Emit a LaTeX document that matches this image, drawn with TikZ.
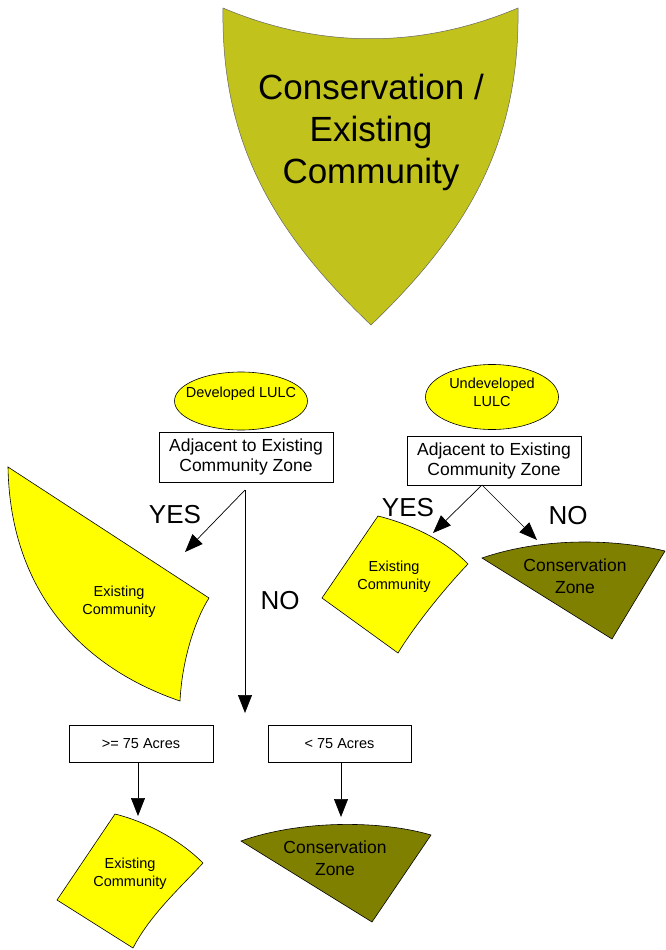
\documentclass[tikz,border=0pt]{standalone}
\usepackage{fontspec}
\setmainfont{Liberation Sans}
\usepackage{tikz}
\usetikzlibrary{shapes.geometric,arrows.meta}
\definecolor{shield}{HTML}{C2C21C}
\definecolor{devyellow}{HTML}{FFFF00}
\definecolor{conserve}{HTML}{808000}
\newcommand{\fsz}[2]{\fontsize{#1}{#2}\selectfont}
\tikzset{
  lulc/.style={ellipse, draw, line width=0.6pt, fill=devyellow, inner sep=0pt},
  lulctxt/.style={align=center, inner sep=0pt, font=\fsz{14.5}{18}},
  query/.style={draw, line width=0.6pt, fill=white, inner sep=0pt, align=center},
  answer/.style={font=\fsz{26}{30}, inner sep=0pt},
  flow/.style={-{Triangle[length=18pt,width=14pt]}, line width=0.7pt},
  zone/.style={draw=black, line width=0.6pt},
  zonetxt/.style={align=center, inner sep=0pt}
}

\begin{document}
\begin{tikzpicture}[x=1pt, y=-1pt]
  \useasboundingbox (0,0) rectangle (665,950);

  % title shield
  \draw[fill=shield, draw=black!60, line width=0.5pt] (223,8) .. controls (320,49) and (421,49) .. (518,8)
    .. controls (520,140) and (470,230) .. (371,325)
    .. controls (271,230) and (221,140) .. (223,8) -- cycle;
  \node[zonetxt, font=\fsz{35}{42}] (title) at (371,132) {Conservation /\\Existing\\Community};

  % land use classes
  \node[lulc, minimum width=133pt, minimum height=58pt,
    label={[lulctxt, yshift=7pt]center:Developed LULC}] (dev) at (241,401) {};
  \node[lulc, minimum width=133pt, minimum height=65pt,
    label={[lulctxt, yshift=5pt]center:Undeveloped\\LULC}] (undev) at (492,397) {};

  % questions
  \node[query, minimum width=174pt, minimum height=50pt, font=\fsz{17.5}{20}] (adj1) at (246,457) {Adjacent to Existing\\Community Zone};
  \node[query, minimum width=174pt, minimum height=49pt, font=\fsz{17.5}{20}] (adj2) at (494,460.5) {Adjacent to Existing\\Community Zone};
  \node[query, minimum width=144pt, minimum height=37pt, font=\fsz{14.5}{18}] (big) at (141,743.5) {>= 75 Acres};
  \node[query, minimum width=143pt, minimum height=37pt, font=\fsz{14.5}{18}] (small) at (339.5,743.5) {< 75 Acres};

  % zone shapes
  \draw[zone, fill=devyellow] (8,467) -- (209,598) .. controls (195,620) and (182,660) .. (180,701)
    .. controls (75,665) and (10,585) .. (8,467) -- cycle;
  \draw[zone, fill=devyellow] (378,516) .. controls (410,524) and (445,540) .. (468,564)
    .. controls (445,588) and (415,625) .. (398,653) -- (322,598) -- cycle;
  \draw[zone, fill=devyellow] (115,814) .. controls (147,822) and (180,840) .. (203,863)
    .. controls (180,888) and (150,915) .. (133,948) -- (57,900) -- cycle;
  \draw[zone, fill=conserve] (482,558) .. controls (540,538) and (610,538) .. (665,551) -- (612,639) -- cycle;
  \draw[zone, fill=conserve] (241,841) .. controls (300,820) and (380,820) .. (431,835) -- (372,922) -- cycle;

  \node[zonetxt, font=\fsz{14.5}{18}] (ecleft) at (119,602) {Existing\\Community};
  \node[zonetxt, font=\fsz{14.5}{18}] (ecright) at (394,577) {Existing\\Community};
  \node[zonetxt, font=\fsz{14.5}{18}] (ecbottom) at (130,874) {Existing\\Community};
  \node[zonetxt, font=\fsz{17.5}{22}] (czright) at (575,576) {Conservation\\Zone};
  \node[zonetxt, font=\fsz{17.5}{22}] (czbottom) at (335,858) {Conservation\\Zone};

  % arrow ends
  \coordinate (fork1) at (245,490);
  \coordinate (fork2) at (482,485);
  \coordinate (yes1) at (185,552);
  \coordinate (no1) at (245,713);
  \coordinate (yes2) at (433,533);
  \coordinate (no2) at (537,540);
  \coordinate (tipbig) at (138,816);
  \coordinate (tipsmall) at (341,817);

  \draw[flow] (fork1) -- (yes1);
  \draw[flow] (fork1) -- (no1);
  \draw[flow] (fork2) -- (yes2);
  \draw[flow] (fork2) -- (no2);
  \draw[flow] (big.south -| tipbig) -- (tipbig);
  \draw[flow] (small.south -| tipsmall) -- (tipsmall);

  \node[answer] (yeslab1) at (175,515) {YES};
  \node[answer] (nolab1) at (280,601) {NO};
  \node[answer] (yeslab2) at (408,508) {YES};
  \node[answer] (nolab2) at (568,516) {NO};
\end{tikzpicture}
\end{document}
